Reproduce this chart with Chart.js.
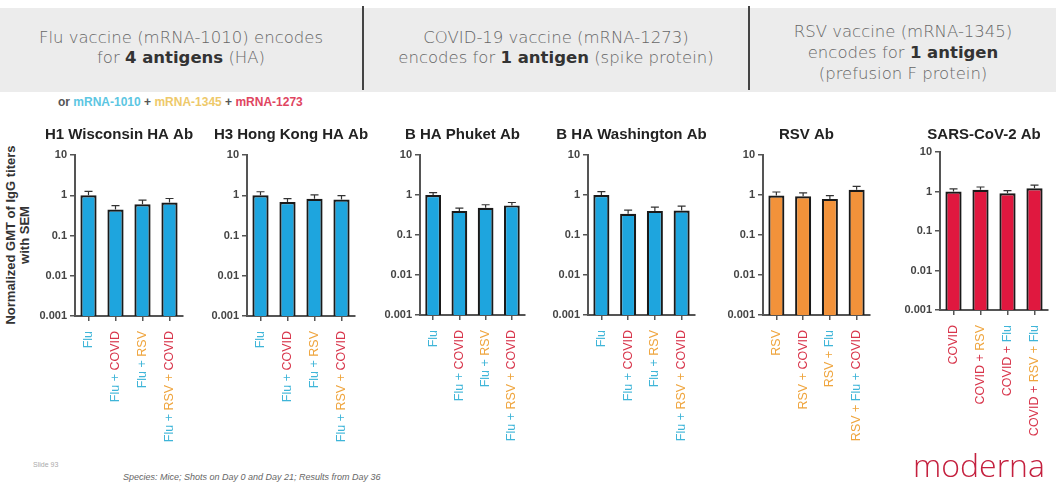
<!DOCTYPE html>
<html>
<head>
<meta charset="utf-8">
<script src="https://cdn.jsdelivr.net/npm/chart.js@4.4.1/dist/chart.umd.min.js"></script>
<style>
  body { margin: 0; width: 1056px; height: 485px; position: relative; background: #fff; overflow: hidden; font-family: Arial, 'Liberation Sans', sans-serif; }
  #header { position: absolute; left: 0; top: 8px; width: 1056px; height: 84px; background: #ececec; }
  .hcell { position: absolute; top: 0; height: 84px; display: flex; align-items: center; justify-content: center; text-align: center;
           font-family: 'DejaVu Sans', sans-serif; font-weight: 300; font-size: 16.5px; color: #666; line-height: 20px; white-space: nowrap; }
  .hcell b { color: #333; font-weight: bold; }
  .divider { position: absolute; top: -2px; width: 2px; height: 84px; background: #444; }
  #legend { position: absolute; left: 58px; top: 95px; font-size: 12px; font-weight: bold; color: #555; white-space: nowrap; }
  #ytitle { position: absolute; left: 18px; top: 235px; width: 240px; transform: translate(-50%, -50%) rotate(-90deg);
            text-align: center; font-size: 13px; font-weight: bold; color: #333; line-height: 14px; }
  canvas { position: absolute; top: 120px; }
  #slide { position: absolute; left: 33px; top: 461px; font-size: 7px; color: #aaa; }
  #species { position: absolute; left: 123px; top: 472px; font-size: 9px; font-style: italic; color: #666; }
  #logo { position: absolute; left: 913px; top: 443px; font-family: 'Open Sans', sans-serif; font-weight: 300; font-size: 32px; color: #c4203e; }
</style>
</head>
<body>
<div id="header">
  <div class="hcell" style="left:0;width:362px;top:-2px"><span>Flu vaccine (mRNA-1010) encodes<br>for <b>4 antigens</b> (HA)</span></div>
  <div class="divider" style="left:362px"></div>
  <div class="hcell" style="left:364px;width:384px;top:-2px"><span>COVID-19 vaccine (mRNA-1273)<br>encodes for <b>1 antigen</b> (spike protein)</span></div>
  <div class="divider" style="left:748px"></div>
  <div class="hcell" style="left:750px;width:306px;top:2px;line-height:21px"><span>RSV vaccine (mRNA-1345)<br>encodes for <b>1 antigen</b><br>(prefusion F protein)</span></div>
</div>
<div id="legend">or <span style="color:#5cc6e2">mRNA-1010</span> + <span style="color:#eec96a">mRNA-1345</span> + <span style="color:#e0455f">mRNA-1273</span></div>
<div id="ytitle">Normalized GMT of IgG titers<br>with SEM</div>
<canvas id="p1"></canvas>
<canvas id="p2"></canvas>
<canvas id="p3"></canvas>
<canvas id="p4"></canvas>
<canvas id="p5"></canvas>
<canvas id="p6"></canvas>
<div id="slide">Slide 93</div>
<div id="species">Species: Mice; Shots on Day 0 and Day 21; Results from Day 36</div>
<div id="logo">moderna</div>
<script>
// log axis ticks
const yTickValues = [0.001, 0.01, 0.1, 1, 10];
const yTickLabels = ['0.001', '0.01', '0.1', '1', '10'];

// groups per panel
const fluGroups = ['Flu', 'Flu + COVID', 'Flu + RSV', 'Flu + RSV + COVID'];
const rsvGroups = ['RSV', 'RSV + COVID', 'RSV + Flu', 'RSV + Flu + COVID'];
const covidGroups = ['COVID', 'COVID + RSV', 'COVID + Flu', 'COVID + RSV + Flu'];

const panelTitles = ['H1 Wisconsin HA Ab', 'H3 Hong Kong HA Ab', 'B HA Phuket Ab', 'B HA Washington Ab', 'RSV Ab', 'SARS-CoV-2 Ab'];

// normalized GMT and SEM
const h1Values = [1.0, 0.44, 0.6, 0.66];
const h1Sem = [0.25, 0.11, 0.16, 0.17];
const h3Values = [1.0, 0.68, 0.82, 0.78];
const h3Sem = [0.22, 0.14, 0.2, 0.2];
const phuketValues = [1.0, 0.4, 0.48, 0.55];
const phuketSem = [0.15, 0.07, 0.09, 0.1];
const washValues = [1.0, 0.34, 0.4, 0.41];
const washSem = [0.22, 0.08, 0.1, 0.12];
const rsvValues = [0.97, 0.93, 0.8, 1.35];
const rsvSem = [0.22, 0.2, 0.17, 0.3];
const covidValues = [1.0, 1.1, 0.9, 1.2];
const covidSem = [0.16, 0.2, 0.15, 0.25];

const groupColors = { 'Flu': '#3fb5d8', 'COVID': '#d8364c', 'RSV': '#efa53e' };

const errorBars = {
  id: 'errorBars',
  afterDatasetsDraw(chart) {
    const { ctx } = chart;
    const y = chart.scales.y;
    const ds = chart.data.datasets[0];
    ctx.save();
    ctx.strokeStyle = '#333';
    ctx.lineWidth = 1.2;
    chart.getDatasetMeta(0).data.forEach((bar, i) => {
      const top = y.getPixelForValue(ds.data[i] + ds.sem[i]);
      ctx.beginPath();
      ctx.moveTo(bar.x, bar.y);
      ctx.lineTo(bar.x, top);
      ctx.moveTo(bar.x - 4, top);
      ctx.lineTo(bar.x + 4, top);
      ctx.stroke();
    });
    ctx.restore();
  }
};

// multi-coloured rotated group labels + panel title
const panelText = {
  id: 'panelText',
  afterDraw(chart) {
    const { ctx, chartArea } = chart;
    const x = chart.scales.x;
    ctx.save();
    ctx.font = 'bold 15px Arial';
    ctx.fillStyle = '#222';
    ctx.textAlign = 'center';
    ctx.textBaseline = 'middle';
    ctx.fillText(chart.options.plugins.panelText.title, (chartArea.left - 20 + chartArea.right) / 2, 15);

    ctx.font = '12.5px Arial';
    ctx.textAlign = 'left';
    chart.data.labels.forEach((label, i) => {
      const parts = label.split(' + ');
      const segs = parts.map((p, k) => ({ text: p + (k < parts.length - 1 ? ' + ' : ''), color: groupColors[p] }));
      const total = segs.reduce((s, g) => s + ctx.measureText(g.text).width, 0);
      ctx.save();
      ctx.translate(x.getPixelForValue(i), chartArea.bottom + 15);
      ctx.rotate(-Math.PI / 2);
      let cx = -total;
      segs.forEach(g => {
        ctx.fillStyle = g.color;
        ctx.fillText(g.text, cx, 0);
        cx += ctx.measureText(g.text).width;
      });
      ctx.restore();
    });
    ctx.restore();
  }
};

function makePanel(id, axis, title, groups, values, sem, color) {
  const [left, right, top, bottom] = axis;
  const canvas = document.getElementById(id);
  canvas.width = right - left + 45 + 30;
  canvas.height = 340;
  canvas.style.left = (left - 45) + 'px';
  new Chart(canvas, {
    type: 'bar',
    data: {
      labels: groups,
      datasets: [{
        data: values,
        sem: sem,
        backgroundColor: color,
        borderColor: '#1a1a1a',
        borderWidth: 2.2,
        barPercentage: 0.6,
        categoryPercentage: 1
      }]
    },
    options: {
      responsive: false,
      animation: false,
      devicePixelRatio: 1,
      layout: { padding: { top: top - 120, bottom: 460 - bottom - 6, left: 0, right: 30 } },
      plugins: { legend: { display: false }, tooltip: { enabled: false }, panelText: { title: title } },
      scales: {
        x: {
          grid: { display: true, drawOnChartArea: false, offset: false, tickLength: 5, color: '#555', lineWidth: 1.5 },
          border: { display: true, color: '#555', width: 2 },
          ticks: { display: false },
          afterFit: s => { s.height = 6; }
        },
        y: {
          type: 'logarithmic',
          min: 0.001,
          max: 10,
          grid: { drawOnChartArea: false, tickLength: 5, color: '#555', lineWidth: 1.5 },
          border: { display: true, color: '#555', width: 2 },
          afterBuildTicks: s => { s.ticks = yTickValues.map(v => ({ value: v })); },
          ticks: {
            padding: 3,
            color: '#444',
            font: { size: 11, weight: 'bold', family: 'Arial' },
            callback: (v, i) => yTickLabels[i]
          },
          afterFit: s => { s.width = 45; }
        }
      }
    },
    plugins: [errorBars, panelText]
  });
}

makePanel('p1', [75, 183, 155, 316], panelTitles[0], fluGroups, h1Values, h1Sem, '#1ea5de');
makePanel('p2', [247, 355, 155, 316], panelTitles[1], fluGroups, h3Values, h3Sem, '#1ea5de');
makePanel('p3', [420, 525, 155, 315], panelTitles[2], fluGroups, phuketValues, phuketSem, '#1ea5de');
makePanel('p4', [588, 695, 155, 315], panelTitles[3], fluGroups, washValues, washSem, '#1ea5de');
makePanel('p5', [763, 870, 155, 315], panelTitles[4], rsvGroups, rsvValues, rsvSem, '#f2923a');
makePanel('p6', [940, 1048, 152, 310], panelTitles[5], covidGroups, covidValues, covidSem, '#e0183f');
</script>
</body>
</html>
